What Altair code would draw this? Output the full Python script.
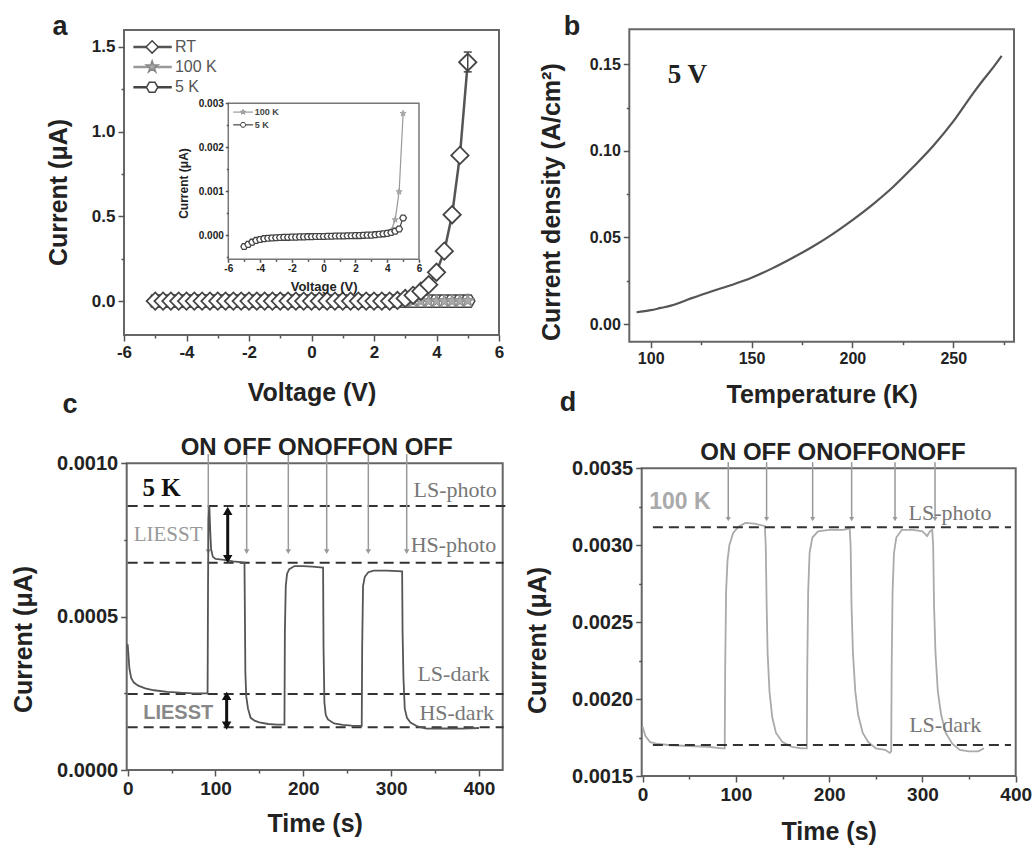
import altair as alt
import pandas as pd

H = 848
SANS = "Liberation Sans"
SERIF = "Liberation Serif"
DARK = "#555555"

# ---------------- panel a data ----------------
volt = [-5.0, -4.75, -4.5, -4.25, -4.0, -3.75, -3.5, -3.25, -3.0, -2.75, -2.5, -2.25,
        -2.0, -1.75, -1.5, -1.25, -1.0, -0.75, -0.5, -0.25, 0.0, 0.25, 0.5, 0.75,
        1.0, 1.25, 1.5, 1.75, 2.0, 2.25, 2.5, 2.75, 3.0, 3.25, 3.5, 3.75, 4.0, 4.25,
        4.5, 4.75, 5.0]
cur_rt = [0.0, 0.0, 0.0, 0.0, 0.0, 0.0, 0.0, 0.0, 0.0, 0.0, 0.0, 0.0,
          0.0, 0.0, 0.0, 0.0, 0.0, 0.0, 0.0, 0.0, 0.0, 0.0, 0.0, 0.0,
          0.0, 0.0, 0.0, 0.0, 0.0, 0.0, 0.0, 0.004, 0.016, 0.034, 0.058, 0.097, 0.170, 0.295,
          0.51, 0.86, 1.41]
cur_100k = [-0.00026, -0.00021, -0.00016, -0.00012, -0.0001, -0.00008, -0.00007, -0.000065,
            -0.00006, -0.000055, -0.00005, -0.00005, -0.000045, -0.000045, -0.00004, -0.00004,
            -0.000035, -0.000035, -0.00003, -0.00003, -0.00003, -0.000025, -0.000025, -0.00002,
            -0.00002, -0.00002, -0.000015, -0.000015, -0.00001, -0.00001, -0.000005, 0.0,
            0.0, 0.00001, 0.00002, 0.00003, 0.00005, 0.0001, 0.00035, 0.00099, 0.00277]
cur_5k = [-0.00026, -0.00021, -0.00016, -0.00012, -0.0001, -0.00008, -0.00007, -0.000065,
          -0.00006, -0.000055, -0.00005, -0.00005, -0.000045, -0.000045, -0.00004, -0.00004,
          -0.000035, -0.000035, -0.00003, -0.00003, -0.00003, -0.000025, -0.000025, -0.00002,
          -0.00002, -0.00002, -0.000015, -0.000015, -0.00001, -0.00001, -0.000005, 0.0,
          0.0, 0.00001, 0.00002, 0.00003, 0.00004, 0.00006, 0.00009, 0.00014, 0.00039]
rt_err_v = [5.0]
rt_err_lo = [1.353]
rt_err_hi = [1.47]
legend_a = ["RT", "100 K", "5 K"]
legend_a_y = [1.5, 1.382, 1.262]
legend_i = ["100 K", "5 K"]
legend_i_y = [0.00280, 0.00251]

# ---------------- panel b data ----------------
temp_b = [93, 100, 105, 110, 120, 130, 140, 150, 160, 170, 180, 190, 200, 210, 220,
          230, 240, 250, 260, 265, 270, 274]
dens_b = [0.0068, 0.0080, 0.0093, 0.0106, 0.0148, 0.0188, 0.0225, 0.0267, 0.032, 0.038,
          0.0445, 0.0518, 0.060, 0.069, 0.079, 0.0905, 0.1028, 0.117, 0.1335, 0.1412,
          0.1485, 0.1548]

# ---------------- panel c data ----------------
time_c = [0, 1, 2, 4, 7, 12, 20, 30, 45, 60, 75, 91,
          91.5, 92, 93, 94, 95, 97, 100, 110, 120, 133,
          133.5, 134, 135, 137, 140, 145, 150, 160, 170, 178.5,
          179, 180, 181.5, 184, 190, 200, 210, 222.5,
          223, 224, 225.5, 228, 235, 245, 255, 266.5,
          267, 268, 270, 274, 280, 295, 312.5,
          313, 314, 315.5, 318, 322, 330, 340, 360, 380, 400]
cur_c = [0.00041, 0.00037, 0.00033, 0.00030, 0.000285, 0.000275, 0.000266, 0.00026, 0.000255, 0.000252, 0.00025, 0.00025,
         0.00060, 0.00082, 0.00086, 0.00078, 0.00072, 0.000695, 0.000688, 0.000685, 0.00068, 0.000676,
         0.0005, 0.00032, 0.00024, 0.0002, 0.00017, 0.00016, 0.000155, 0.00015, 0.000148, 0.000148,
         0.00045, 0.0006, 0.00064, 0.000655, 0.000665, 0.000665, 0.000663, 0.00066,
         0.0004, 0.00022, 0.00018, 0.000165, 0.000152, 0.000147, 0.000145, 0.000144,
         0.0004, 0.0006, 0.00063, 0.000645, 0.00065, 0.00065, 0.000648,
         0.00045, 0.0003, 0.0002, 0.00017, 0.000155, 0.000142, 0.000135, 0.000136, 0.000135, 0.000137]
levels_c = [0.000861, 0.000676, 0.000248, 0.000139]
level_names_c = ["LS-photo", "HS-photo", "LS-dark", "HS-dark"]
level_label_t_c = [372.8, 370.9, 370.9, 374.6]
level_label_v_c = [0.000913, 0.000734, 0.000313, 0.000185]
arrows_c = [91.8, 135.5, 182.9, 226.6, 274.0, 317.7]

# ---------------- panel d data ----------------
time_d = [0, 3, 8, 15, 30, 50, 70, 85, 88,
          88.5, 89.5, 91, 93, 97, 103, 110, 120, 131,
          132, 133, 134, 136, 139, 143, 150, 160, 170, 176,
          176.5, 177.5, 179, 182, 188, 200, 215, 222,
          223, 224, 225.5, 228, 231, 236, 242, 250, 260, 265, 266.5,
          267, 268, 269.5, 272, 278, 290, 300, 305, 308, 310.5,
          311.5, 312.5, 314, 316.5, 320, 325, 332, 340, 350, 360, 366]
cur_d = [0.00182, 0.00176, 0.00172, 0.00171, 0.0017, 0.001695, 0.00169, 0.00168, 0.00168,
         0.0022, 0.0027, 0.0029, 0.003, 0.00308, 0.00312, 0.003145, 0.00314, 0.003125,
         0.003, 0.0026, 0.0023, 0.00205, 0.00188, 0.00178, 0.00172, 0.00169, 0.00168, 0.00168,
         0.0022, 0.0027, 0.00295, 0.00305, 0.00309, 0.0031, 0.0031, 0.00311,
         0.003, 0.0026, 0.0023, 0.00205, 0.0019, 0.00178, 0.00172, 0.00168, 0.00167, 0.00165, 0.00166,
         0.0022, 0.0027, 0.00295, 0.00305, 0.0031, 0.0031, 0.00309, 0.00306, 0.00309, 0.0031,
         0.003, 0.0026, 0.0023, 0.00205, 0.0019, 0.00178, 0.00171, 0.00167, 0.00166, 0.00166, 0.00168]
levels_d = [0.003117, 0.0017015]
level_names_d = ["LS-photo", "LS-dark"]
level_label_t_d = [329.6, 324.4]
level_label_v_d = [0.003207, 0.001832]
arrows_d = [91.8, 132.9, 182.3, 224.1, 270.6, 313.5]

HEX = "M-1,0L-0.5,-0.87L0.5,-0.87L1,0L0.5,0.87L-0.5,0.87Z"
STAR = ("M0,-1L0.225,-0.31L0.95,-0.31L0.36,0.12L0.59,0.81L0,0.38L-0.59,0.81"
        "L-0.36,0.12L-0.95,-0.31L-0.225,-0.31Z")


def sc(dom, rng):
    return alt.Scale(domain=dom, range=rng, nice=False, zero=False)


def lbl(fmt):
    return ("datum.value < 0 ? '-' + format(-datum.value, '%s') : format(datum.value, '%s')"
            % (fmt, fmt))


def major(orient, offset, values, fmt, lsize, title, tsize=25, tpad=None, tx=None, ty=None,
          tick=6, lpad=3):
    kw = dict(orient=orient, offset=offset, values=values, labelExpr=lbl(fmt),
              labelFont=SANS, labelFontSize=lsize, labelFontWeight="bold", labelColor="#222",
              labelPadding=lpad, labelFlush=False, labelOverlap=False, labelBound=False,
              tickSize=tick, tickWidth=1.5, tickColor=DARK, domain=False, grid=False,
              title=title, titleFont=SANS, titleFontSize=tsize, titleFontWeight="bold",
              titleColor="#222", zindex=2)
    if tpad is not None:
        kw["titlePadding"] = tpad
    if orient == "left":
        kw.update(titleAngle=270, titleAlign="center", titleBaseline="middle",
                  titleX=tx, titleY=ty)
    return alt.Axis(**kw)


def minor(orient, offset, values, tick=3):
    return alt.Axis(orient=orient, offset=offset, values=values, labels=False, title=None,
                    domain=False, grid=False, tickSize=tick, tickWidth=1.5, tickColor=DARK,
                    zindex=2)


def frame(xs, ys, xdom, ydom, xax, yax, stroke="#666", sw=2):
    df = pd.DataFrame({"x0": [xdom[0]], "x1": [xdom[1]], "y0": [ydom[0]], "y1": [ydom[1]]})
    return alt.Chart(df).mark_rect(fill="white", stroke=stroke, strokeWidth=sw).encode(
        x=alt.X("x0:Q", scale=xs, axis=xax), x2="x1:Q",
        y=alt.Y("y0:Q", scale=ys, axis=yax), y2="y1:Q")


# ================= panel a =================
xa_dom, ya_dom = [-6, 6], [-0.2, 1.6]
xa = sc(xa_dom, [124, 499])
ya = sc(ya_dom, [335, 30])
dfa = pd.DataFrame({"V": volt, "rt": cur_rt, "k100": cur_100k, "k5": cur_5k})
XA = alt.X("V:Q", scale=xa, axis=None)


def YA(f):
    return alt.Y(f + ":Q", scale=ya, axis=None)


fa = frame(xa, ya, xa_dom, ya_dom,
           minor("bottom", 335 - H, [-5, -3, -1, 1, 3, 5]),
           minor("left", -124, [0.25, 0.75, 1.25]))
ba = alt.Chart(dfa)
l5 = ba.mark_line(color="#444", strokeWidth=2).encode(x=XA, y=YA("k5"))
p5 = ba.mark_point(shape=HEX, size=200, fill="white", stroke="#444", strokeWidth=1.5,
                   opacity=1).encode(x=XA, y=YA("k5"))
l100 = ba.mark_line(color="#999", strokeWidth=2).encode(x=XA, y=YA("k100"))
p100 = ba.mark_point(shape=STAR, size=200, fill="#aaa", stroke="#888", strokeWidth=1,
                     opacity=1).encode(x=XA, y=YA("k100"))
lrt = ba.mark_line(color="#555", strokeWidth=2.5).encode(
    x=alt.X("V:Q", scale=xa, axis=major("bottom", 335 - H, [-6, -4, -2, 0, 2, 4, 6], "d", 17,
                                        "Voltage (V)", 25, tpad=20)),
    y=alt.Y("rt:Q", scale=ya, axis=major("left", -124, [0, 0.5, 1.0, 1.5], ".1f", 17,
                                         "Current (μA)", 25, tx=58 - 124, ty=192)))
prt = ba.mark_point(shape="diamond", size=300, fill="white", stroke="#444", strokeWidth=1.8,
                    opacity=1).encode(x=XA, y=YA("rt"))
dferr = pd.DataFrame({"V": rt_err_v, "lo": rt_err_lo, "hi": rt_err_hi})
err_rule = alt.Chart(dferr).mark_rule(color="#444", strokeWidth=1.5).encode(
    x=XA, y=YA("lo"), y2="hi:Q")
err_lo = alt.Chart(dferr).mark_point(shape="stroke", size=64, stroke="#444", strokeWidth=1.5,
                                     opacity=1).encode(x=XA, y=YA("lo"))
err_hi = alt.Chart(dferr).mark_point(shape="stroke", size=64, stroke="#444", strokeWidth=1.5,
                                     opacity=1).encode(x=XA, y=YA("hi"))

leg_styles = [("#555", "diamond", "white", "#444", 150),
              ("#999", STAR, "#aaa", "#888", 150),
              ("#444", HEX, "white", "#444", 130)]
leg_layers = []
for name, yv, (lc, shp, fc, sc_, sz) in zip(legend_a, legend_a_y, leg_styles):
    d = pd.DataFrame({"x0": [-5.7], "x1": [-4.47], "xm": [-5.1], "xt": [-4.37], "y": [yv],
                      "label": [name]})
    c = alt.Chart(d)
    leg_layers.append(c.mark_rule(color=lc, strokeWidth=2.5).encode(
        x=alt.X("x0:Q", scale=xa, axis=None), x2="x1:Q", y=YA("y")))
    leg_layers.append(c.mark_point(shape=shp, size=sz, fill=fc, stroke=sc_, strokeWidth=1.5,
                                   opacity=1).encode(x=alt.X("xm:Q", scale=xa, axis=None),
                                                     y=YA("y")))
    leg_layers.append(c.mark_text(align="left", baseline="middle", font=SANS, fontSize=16,
                                  color="#555").encode(
        x=alt.X("xt:Q", scale=xa, axis=None), y=YA("y"), text="label:N"))

panel_a = alt.layer(fa, l5, p5, l100, p100, lrt, prt, err_rule, err_lo, err_hi,
                    *leg_layers).resolve_axis(x="independent", y="independent")

# ================= inset =================
xi_dom, yi_dom = [-6, 6], [-0.00055, 0.003]
xi = sc(xi_dom, [228.3, 419])
yi = sc(yi_dom, [259.3, 103.3])
XI = alt.X("V:Q", scale=xi, axis=None)


def YI(f):
    return alt.Y(f + ":Q", scale=yi, axis=None)


fi = frame(xi, yi, xi_dom, yi_dom,
           minor("bottom", 259.3 - H, [-5, -3, -1, 1, 3, 5], tick=2),
           minor("left", -228.3, [-0.0005, 0.0005, 0.0015, 0.0025], tick=2),
           stroke="#777", sw=1.5)
bi = alt.Chart(dfa)
il100 = bi.mark_line(color="#999", strokeWidth=1.2).encode(
    x=alt.X("V:Q", scale=xi, axis=major("bottom", 259.3 - H, [-6, -4, -2, 0, 2, 4, 6], "d", 10,
                                        "Voltage (V)", 13, tpad=7, tick=3, lpad=1)),
    y=alt.Y("k100:Q", scale=yi, axis=major("left", -228.3, [0, 0.001, 0.002, 0.003], ".3f", 10,
                                           "Current (μA)", 12, tx=-45, ty=183, tick=3, lpad=2)))
ip100 = bi.mark_point(shape=STAR, size=40, fill="#aaa", stroke="#999", strokeWidth=0.8,
                      opacity=1).encode(x=XI, y=YI("k100"))
il5 = bi.mark_line(color="#444", strokeWidth=1.2).encode(x=XI, y=YI("k5"))
ip5 = bi.mark_point(shape=HEX, size=45, fill="white", stroke="#444", strokeWidth=1.3,
                    opacity=1).encode(x=XI, y=YI("k5"))
ileg = []
for name, yv, (lc, shp, fc, sc_) in zip(legend_i, legend_i_y,
                                        [("#999", STAR, "#aaa", "#999"),
                                         ("#444", HEX, "white", "#444")]):
    d = pd.DataFrame({"x0": [-5.69], "x1": [-4.44], "xm": [-5.07], "xt": [-4.33], "y": [yv],
                      "label": [name]})
    c = alt.Chart(d)
    ileg.append(c.mark_rule(color=lc, strokeWidth=1.2).encode(
        x=alt.X("x0:Q", scale=xi, axis=None), x2="x1:Q", y=YI("y")))
    ileg.append(c.mark_point(shape=shp, size=30, fill=fc, stroke=sc_, strokeWidth=1,
                             opacity=1).encode(x=alt.X("xm:Q", scale=xi, axis=None), y=YI("y")))
    ileg.append(c.mark_text(align="left", baseline="middle", font=SANS, fontSize=9,
                            fontWeight="bold", color="#444").encode(
        x=alt.X("xt:Q", scale=xi, axis=None), y=YI("y"), text="label:N"))
inset = alt.layer(fi, il100, ip100, il5, ip5, *ileg).resolve_axis(x="independent",
                                                                  y="independent")

# ================= panel b =================
xb_dom, yb_dom = [89.4, 280.1], [-0.0102, 0.1702]
xb = sc(xb_dom, [629.3, 1014])
yb = sc(yb_dom, [341.7, 29.3])
fb = frame(xb, yb, xb_dom, yb_dom,
           minor("bottom", 341.7 - H, [125, 175, 225, 275]),
           minor("left", -629.3, [0.025, 0.075, 0.125]))
dfb = pd.DataFrame({"T": temp_b, "J": dens_b})
lb = alt.Chart(dfb).mark_line(color="#555", strokeWidth=2.2, interpolate="monotone").encode(
    x=alt.X("T:Q", scale=xb, axis=major("bottom", 341.7 - H, [100, 150, 200, 250], "d", 16,
                                        "Temperature (K)", 25, tpad=16)),
    y=alt.Y("J:Q", scale=yb, axis=major("left", -629.3, [0, 0.05, 0.10, 0.15], ".2f", 16,
                                        "Current density (A/cm²)", 25, tx=551 - 629.3,
                                        ty=201.7)))
tb = alt.Chart(pd.DataFrame({"T": [118.2], "J": [0.1438], "s": ["5 V"]})).mark_text(
    font=SERIF, fontSize=27, fontWeight="bold", color="#222", baseline="middle").encode(
    x=alt.X("T:Q", scale=xb, axis=None), y=alt.Y("J:Q", scale=yb, axis=None), text="s:N")
panel_b = alt.layer(fb, lb, tb).resolve_axis(x="independent", y="independent")

# ================= panel c =================
xc_dom, yc_dom = [-1.1, 427], [0, 0.001]
xc = sc(xc_dom, [126.7, 502.7])
yc = sc(yc_dom, [770, 463.3])
XC = alt.X("t:Q", scale=xc, axis=None)


def YC(f):
    return alt.Y(f + ":Q", scale=yc, axis=None)


fc_ = frame(xc, yc, xc_dom, yc_dom,
            minor("bottom", 770 - H, [50, 150, 250, 350]),
            minor("left", -126.7, [0.00025, 0.00075]))
dfc = pd.DataFrame({"t": time_c, "I": cur_c})
dash_c = alt.Chart(pd.DataFrame({"lv": levels_c, "t0": [0, 0, 0, 0],
                                 "t1": [430, 428, 428, 428]})).mark_rule(
    color="#333", strokeWidth=2, strokeDash=[10, 6]).encode(
    x=alt.X("t0:Q", scale=xc, axis=None), x2="t1:Q", y=YC("lv"))
arr_c_df = pd.DataFrame({"t": arrows_c, "top": [0.00103] * 6, "tip": [0.000712] * 6})
arr_c = alt.Chart(arr_c_df).mark_rule(color="#999", strokeWidth=1.5).encode(
    x=XC, y=YC("top"), y2="tip:Q")
arr_c_h = alt.Chart(arr_c_df).mark_point(shape="triangle-down", size=30, filled=True,
                                         color="#999", opacity=1).encode(x=XC, y=YC("tip"))
lc = alt.Chart(dfc).mark_line(color="#555", strokeWidth=1.8).encode(
    x=alt.X("t:Q", scale=xc, axis=major("bottom", 770 - H, [0, 100, 200, 300, 400], "d", 19,
                                        "Time (s)", 25, tpad=13)),
    y=alt.Y("I:Q", scale=yc, axis=major("left", -126.7, [0, 0.0005, 0.001], ".4f", 20,
                                        "Current (μA)", 25, tx=23 - 126.7, ty=639)))
dbl_df = pd.DataFrame({"t": [113.9, 112.7], "a": [0.000845, 0.000242],
                       "b": [0.000688, 0.000145]})
dbl = alt.Chart(dbl_df).mark_rule(color="#111", strokeWidth=3).encode(x=XC, y=YC("a"),
                                                                       y2="b:Q")
dbl_up = alt.Chart(dbl_df).mark_point(shape="triangle-up", size=90, filled=True, color="#111",
                                      opacity=1).encode(x=XC, y=YC("a"))
dbl_dn = alt.Chart(dbl_df).mark_point(shape="triangle-down", size=90, filled=True,
                                      color="#111", opacity=1).encode(x=XC, y=YC("b"))
lvl_txt_c = alt.Chart(pd.DataFrame({"t": level_label_t_c, "v": level_label_v_c,
                                    "s": level_names_c})).mark_text(
    font=SERIF, fontSize=22, color="#777", baseline="middle").encode(x=XC, y=YC("v"),
                                                                      text="s:N")
txt_c = alt.Chart(pd.DataFrame({"t": [38.7], "v": [0.000918], "s": ["5 K"]})).mark_text(
    font=SERIF, fontSize=25, fontWeight="bold", color="#111", baseline="middle").encode(
    x=XC, y=YC("v"), text="s:N")
liesst1 = alt.Chart(pd.DataFrame({"t": [46], "v": [0.000766], "s": ["LIESST"]})).mark_text(
    font=SERIF, fontSize=21, color="#999", baseline="middle").encode(x=XC, y=YC("v"),
                                                                      text="s:N")
liesst2 = alt.Chart(pd.DataFrame({"t": [57.6], "v": [0.000187], "s": ["LIESST"]})).mark_text(
    font=SANS, fontSize=20, fontWeight="bold", color="#888", baseline="middle").encode(
    x=XC, y=YC("v"), text="s:N")
onoff_c = alt.Chart(pd.DataFrame({"t": [215.2], "v": [0.00105],
                                  "s": ["ON OFF ONOFFON OFF"]})).mark_text(
    font=SANS, fontSize=24, fontWeight="bold", color="#222", baseline="middle").encode(
    x=XC, y=YC("v"), text="s:N")
panel_c = alt.layer(fc_, dash_c, arr_c, arr_c_h, lc, dbl, dbl_up, dbl_dn, lvl_txt_c, txt_c,
                    liesst1, liesst2, onoff_c).resolve_axis(x="independent", y="independent")

# ================= panel d =================
xd_dom, yd_dom = [-1, 400], [0.0015, 0.0035]
xd = sc(xd_dom, [641.7, 1015.7])
yd = sc(yd_dom, [776, 468.3])
XD = alt.X("t:Q", scale=xd, axis=None)


def YD(f):
    return alt.Y(f + ":Q", scale=yd, axis=None)


fd = frame(xd, yd, xd_dom, yd_dom,
           minor("bottom", 776 - H, [50, 150, 250, 350]),
           minor("left", -641.7, [0.00175, 0.00225, 0.00275, 0.00325]))
dfd = pd.DataFrame({"t": time_d, "I": cur_d})
arr_d_df = pd.DataFrame({"t": arrows_d, "top": [0.00354] * 6, "tip": [0.00317] * 6})
arr_d = alt.Chart(arr_d_df).mark_rule(color="#999", strokeWidth=1.5).encode(
    x=XD, y=YD("top"), y2="tip:Q")
arr_d_h = alt.Chart(arr_d_df).mark_point(shape="triangle-down", size=25, filled=True,
                                         color="#999", opacity=1).encode(x=XD, y=YD("tip"))
ld = alt.Chart(dfd).mark_line(color="#aaa", strokeWidth=1.8).encode(
    x=alt.X("t:Q", scale=xd, axis=major("bottom", 776 - H, [0, 100, 200, 300, 400], "d", 19,
                                        "Time (s)", 25, tpad=15)),
    y=alt.Y("I:Q", scale=yd, axis=major("left", -641.7, [0.0015, 0.002, 0.0025, 0.003, 0.0035],
                                        ".4f", 20, "Current (μA)", 25, tx=537.5 - 641.7,
                                        ty=640)))
dash_d = alt.Chart(pd.DataFrame({"lv": levels_d, "t0": [11, 11], "t1": [395, 395]})).mark_rule(
    color="#333", strokeWidth=2, strokeDash=[10, 6]).encode(
    x=alt.X("t0:Q", scale=xd, axis=None), x2="t1:Q", y=YD("lv"))
lvl_txt_d = alt.Chart(pd.DataFrame({"t": level_label_t_d, "v": level_label_v_d,
                                    "s": level_names_d})).mark_text(
    font=SERIF, fontSize=22, color="#777", baseline="middle").encode(x=XD, y=YD("v"),
                                                                      text="s:N")
txt_d = alt.Chart(pd.DataFrame({"t": [40], "v": [0.003283], "s": ["100 K"]})).mark_text(
    font=SANS, fontSize=23, fontWeight="bold", color="#aaa", baseline="middle").encode(
    x=XD, y=YD("v"), text="s:N")
onoff_d = alt.Chart(pd.DataFrame({"t": [204], "v": [0.0036],
                                  "s": ["ON OFF ONOFFONOFF"]})).mark_text(
    font=SANS, fontSize=24, fontWeight="bold", color="#222", baseline="middle").encode(
    x=XD, y=YD("v"), text="s:N")
panel_d = alt.layer(fd, arr_d, arr_d_h, ld, dash_d, lvl_txt_d, txt_d,
                    onoff_d).resolve_axis(x="independent", y="independent")

# ================= panel letters =================
letters = alt.Chart(pd.DataFrame({"s": ["a", "b", "c", "d"], "px": [60, 572, 70, 568],
                                  "py": [27, 27, 405, 403]})).mark_text(
    font=SANS, fontSize=27, fontWeight="bold", color="#222", baseline="middle").encode(
    x=alt.X("px:Q", scale=None), y=alt.Y("py:Q", scale=None), text="s:N")

chart = alt.layer(panel_a, inset, panel_b, panel_c, panel_d, letters).resolve_scale(
    x="independent", y="independent").properties(
    width=1036, height=848, autosize=alt.AutoSizeParams(type="none"), padding=0,
    background="white").configure_view(stroke=None)

chart.save("out.html", embed_options={"renderer": "svg", "actions": False})
